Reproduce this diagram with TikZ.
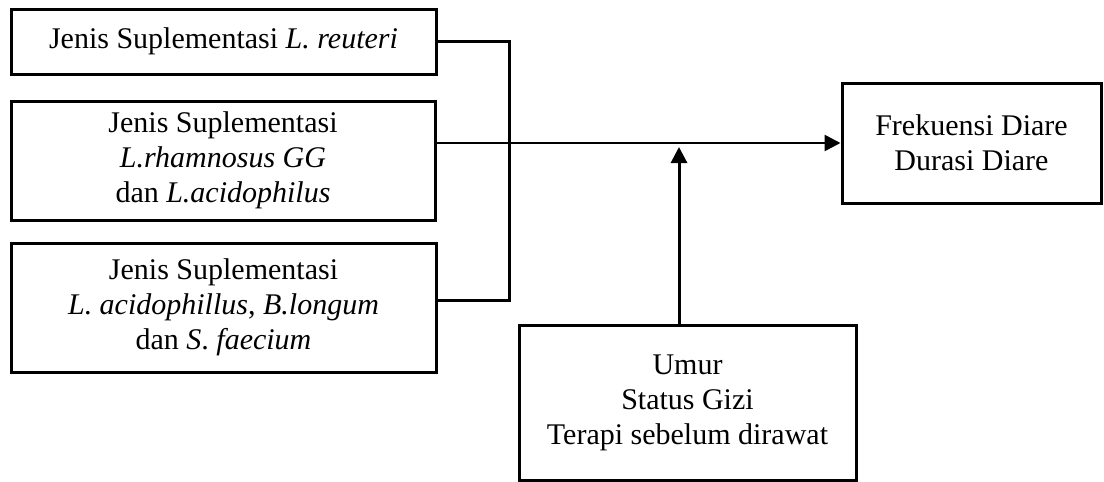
\documentclass[tikz,border=0pt]{standalone}
\usepackage{fontspec}
\setmainfont{Liberation Serif}
\usetikzlibrary{arrows.meta}

\begin{document}
\begin{tikzpicture}[x=0.5pt,y=-0.5pt,
  box/.style={draw,line width=1.5pt,align=center,inner sep=0pt,
    font=\fontsize{15}{17.5}\selectfont},
  link/.style={line width=1.5pt},
  arr/.style={line width=1.5pt,-{Triangle[length=8pt,width=8pt]}}]
\useasboundingbox (0,0) rectangle (1104,482);
% suplementasi
\node[box,minimum width=212.5pt,minimum height=32.5pt] (reuteri) at (223.5,41.5)
  {Jenis Suplementasi \textit{L. reuteri}};
\node[box,minimum width=212pt,minimum height=59.5pt] (rhamn) at (223,160.5)
  {Jenis Suplementasi\\ \textit{L.rhamnosus GG}\\ dan \textit{L.acidophilus}};
\node[box,minimum width=212.5pt,minimum height=64.5pt] (longum) at (223.5,307.5)
  {Jenis Suplementasi\\ \textit{L. acidophillus}, \textit{B.longum}\\ dan \textit{S}. \textit{faecium}};
% hasil dan perancu
\node[box,minimum width=129.5pt,minimum height=60pt] (diare) at (971.5,143)
  {Frekuensi Diare\\ Durasi Diare};
\node[box,minimum width=168.5pt,minimum height=77.5pt] (perancu) at (687.5,402.5)
  {Umur\\ Status Gizi\\ Terapi sebelum dirawat};
\coordinate (bus) at (509,0);
\coordinate (mod) at (679,147);
\draw[link] (reuteri.east) -- (reuteri.east -| bus)
  -- ([yshift=3.75pt]longum.east -| bus) -- ([yshift=3.75pt]longum.east);
\draw[arr,line width=1.3pt] (rhamn.east |- diare.west) -- (diare.west);
\draw[arr] (mod |- perancu.north) -- (mod);
\end{tikzpicture}
\end{document}
